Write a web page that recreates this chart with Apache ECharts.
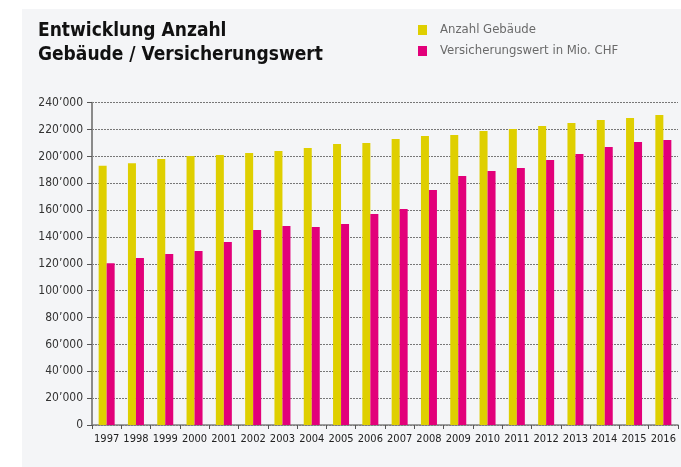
<!DOCTYPE html>
<html>
<head>
<meta charset="utf-8">
<title>Entwicklung Anzahl Gebäude / Versicherungswert</title>
<script src="https://cdn.jsdelivr.net/npm/echarts@6/dist/echarts.min.js"></script>
<style>
  html, body { margin: 0; padding: 0; background: #fff; }
  #chart { width: 681px; height: 467px; }
</style>
</head>
<body>
<div id="chart"></div>
<script>
  // Jahre (Kategorien)
  var years = ['1997', '1998', '1999', '2000', '2001', '2002', '2003', '2004', '2005', '2006',
    '2007', '2008', '2009', '2010', '2011', '2012', '2013', '2014', '2015', '2016'];
  // Anzahl Gebäude
  var anzahlGebaeude = [193000, 195000, 198000, 200300, 201000, 202500, 204000, 206300, 209200, 210000,
    213000, 215200, 215900, 218900, 220400, 222600, 224900, 227100, 228600, 230800];
  // Versicherungswert in Mio. CHF
  var versicherungswert = [120500, 124300, 127300, 129600, 136300, 145200, 148200, 147400, 149700, 157100,
    160800, 175000, 185400, 189100, 191400, 197300, 201800, 207000, 210700, 212200];
  // Y-Achse
  var yMin = 0, yMax = 240000, yStep = 20000;

  var seriesNames = ['Anzahl Gebäude', 'Versicherungswert in Mio. CHF'];
  var colorList = ['#dfcf00', '#e2007a'];
  var fontCond = '"DejaVu Sans Condensed", "DejaVu Sans", sans-serif';

  function fmtTausend(v) {
    return String(v).replace(/\B(?=(\d{3})+(?!\d))/g, '\u2019');
  }

  var chart = echarts.init(document.getElementById('chart'), null, { renderer: 'canvas' });
  chart.setOption({
    animation: false,
    color: colorList,
    graphic: [{
      type: 'rect',
      z: -100,
      shape: { x: 22, y: 9, width: 659, height: 458 },
      style: { fill: '#f4f5f7' },
      silent: true
    }],
    title: {
      text: 'Entwicklung Anzahl\nGebäude / Versicherungswert',
      left: 38,
      top: 19,
      padding: 0,
      textStyle: {
        fontFamily: fontCond,
        fontWeight: 'bold',
        fontSize: 19,
        lineHeight: 24,
        color: '#111'
      }
    },
    legend: {
      orient: 'vertical',
      left: 418,
      top: 22,
      padding: 0,
      itemGap: 5,
      itemWidth: 9,
      itemHeight: 10,
      icon: 'rect',
      data: seriesNames,
      textStyle: {
        fontFamily: fontCond,
        fontSize: 13,
        lineHeight: 16,
        color: '#6a6a6a',
        padding: [0, 0, 0, 8]
      }
    },
    grid: {
      left: 92,
      right: 3,
      top: 102.7,
      bottom: 42,
      containLabel: false
    },
    xAxis: {
      type: 'category',
      data: years,
      axisLine: { lineStyle: { color: '#808080', width: 1.5 } },
      axisTick: { show: true, length: 4, interval: 0, lineStyle: { color: '#555' } },
      axisLabel: {
        interval: 0,
        margin: 9,
        fontFamily: fontCond,
        fontSize: 11,
        color: '#222'
      }
    },
    yAxis: {
      type: 'value',
      min: yMin,
      max: yMax,
      interval: yStep,
      axisLine: { show: true, lineStyle: { color: '#8a8a8a', width: 2 } },
      axisTick: { show: true, length: 5, lineStyle: { color: '#555' } },
      axisLabel: {
        margin: 9,
        fontFamily: fontCond,
        fontSize: 12,
        color: '#333',
        formatter: fmtTausend
      },
      splitLine: { lineStyle: { color: '#777', type: [2, 1], width: 1 } }
    },
    series: [{
      name: seriesNames[0],
      type: 'bar',
      barWidth: 8,
      barGap: '0%',
      data: anzahlGebaeude
    }, {
      name: seriesNames[1],
      type: 'bar',
      barWidth: 8,
      barGap: '0%',
      data: versicherungswert
    }]
  });
</script>
</body>
</html>
